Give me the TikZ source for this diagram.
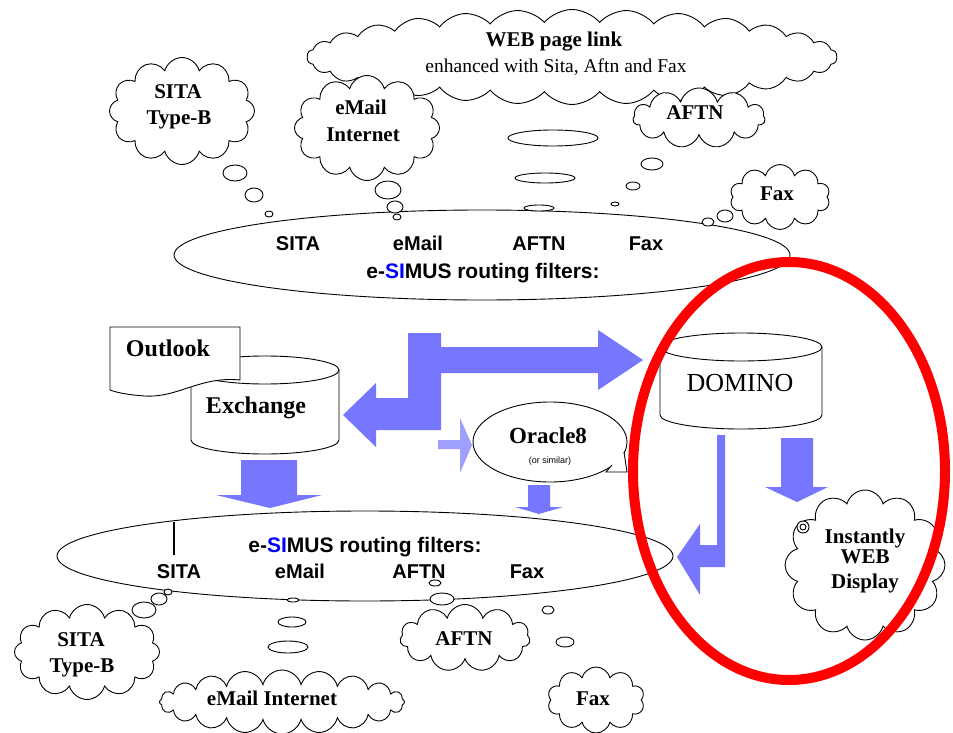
\documentclass[tikz,border=0pt]{standalone}
\usepackage{fontspec}
\setmainfont{Liberation Serif}
\newfontfamily\labfont{Liberation Sans}
\usetikzlibrary{shapes.symbols,shapes.geometric}
\definecolor{arrowblue}{RGB}{118,118,255}
\definecolor{simusblue}{RGB}{0,0,255}
\definecolor{ringred}{RGB}{255,0,0}
\begin{document}
\begin{tikzpicture}[x=1pt,y=1pt,
  thought/.style={cloud, draw, fill=white, cloud puffs=#1, cloud ignores aspect, line width=0.9pt, inner sep=0pt},
  bub/.style={draw, fill=white, line width=0.9pt},
  ser/.style={font=\fontsize{21}{23}\selectfont\bfseries, anchor=base, inner sep=0pt},
  serreg/.style={font=\fontsize{19.5}{21}\selectfont, anchor=base, inner sep=0pt},
  sans/.style={font=\labfont\fontsize{20}{22}\selectfont\bfseries, anchor=base, inner sep=0pt},
  sansbig/.style={font=\labfont\fontsize{21}{23}\selectfont\bfseries, anchor=base, inner sep=0pt},
  big/.style={font=\fontsize{24}{26}\selectfont\bfseries, anchor=base, inner sep=0pt},
  flow/.style={fill=arrowblue},
  outl/.style={draw, fill=white, line width=0.9pt}
]
\useasboundingbox (0,0) rectangle (953,-733);
\fill[white] (0,0) rectangle (953,-733);

% ---- top clouds
\node[thought=30, cloud puff arc=100, minimum width=530, minimum height=95] (webc) at (572,-57) {};
\node[thought=12, minimum width=145, minimum height=107] (sitac) at (182,-111) {};
\node[thought=12, minimum width=145, minimum height=105] (mailc) at (367,-128) {};
\node[thought=11, minimum width=132, minimum height=60] (aftnc) at (699,-118) {};
\node[thought=10, minimum width=100, minimum height=65] (faxc) at (780,-197) {};

\node[ser] (webt1) at (554,-47) {WEB page link};
\node[serreg] (webt2) at (556,-73) {enhanced with Sita, Aftn and Fax};
\node[ser] (sitat1) at (178,-99) {SITA};
\node[ser] (sitat2) at (179,-125) {Type-B};
\node[ser] (mailt1) at (361,-115) {eMail};
\node[ser] (mailt2) at (363,-142) {Internet};
\node[ser] (aftnt) at (695,-120) {AFTN};
\node[ser] (faxt) at (777,-200) {Fax};

% ---- top routing ellipse
\draw[line width=0.9pt] (482,-255) ellipse [x radius=308, y radius=45];
\node[sans] (tsita) at (298,-250) {SITA};
\node[sans] (tmail) at (418,-250) {eMail};
\node[sans] (taftn) at (539,-250) {AFTN};
\node[sans] (tfax) at (646,-250) {Fax};
\node[sansbig] (tsimus) at (483,-278) {e-\textcolor{simusblue}{SI}MUS routing filters:};

% bubbles top
\draw[bub] (235,-173) ellipse [x radius=12, y radius=8];
\draw[bub] (254,-195) ellipse [x radius=9, y radius=7];
\draw[bub] (269,-214) ellipse [x radius=4, y radius=3];
\draw[bub] (388,-190) ellipse [x radius=13, y radius=9];
\draw[bub] (395,-207) ellipse [x radius=8, y radius=6];
\draw[bub] (397,-217) ellipse [x radius=4, y radius=3];
\draw[bub] (553,-138) ellipse [x radius=45, y radius=8];
\draw[bub] (545,-178) ellipse [x radius=30, y radius=5];
\draw[bub] (539,-208) ellipse [x radius=15, y radius=3];
\draw[bub] (652,-164) ellipse [x radius=11, y radius=6];
\draw[bub] (633,-186) ellipse [x radius=7, y radius=4];
\draw[bub] (615,-204) ellipse [x radius=4, y radius=2];
\draw[bub] (725,-216) ellipse [x radius=8, y radius=6];
\draw[bub] (708,-222) ellipse [x radius=6, y radius=4];

% ---- Exchange cylinder and Outlook
\draw[outl] (191,-370) -- (191,-440) arc[start angle=180, end angle=360, x radius=74, y radius=14]
  -- (339,-370) arc[start angle=0, end angle=180, x radius=74, y radius=14] -- cycle;
\draw[line width=0.9pt] (191,-370) arc[start angle=180, end angle=360, x radius=74, y radius=14];
\draw[outl] (110,-327) -- (240,-327) -- (240,-380)
  .. controls (200,-376) and (178,-398) .. (145,-396)
  .. controls (130,-395) and (118,-393) .. (110,-390) -- cycle;
\node[big] (outlook) at (168,-356) {Outlook};
\node[big] (exch) at (256,-413) {Exchange};

% ---- DOMINO cylinder
\draw[outl] (660,-347) -- (660,-415) arc[start angle=180, end angle=360, x radius=81, y radius=14]
  -- (822,-347) arc[start angle=0, end angle=180, x radius=81, y radius=14] -- cycle;
\draw[line width=0.9pt] (660,-347) arc[start angle=180, end angle=360, x radius=81, y radius=14];
\node[font=\fontsize{26}{28}\selectfont, anchor=base, inner sep=0pt] (domino) at (740,-391) {DOMINO};

% ---- Oracle8 speech bubble
\draw[outl] (550,-442) ellipse [x radius=77, y radius=40];
\fill[white] (612,-465) -- (606,-472) -- (627,-472) -- (624,-452) -- cycle;
\draw[line width=0.9pt] (612,-465) -- (606,-472) -- (627,-472) -- (624,-452);
\node[font=\fontsize{23}{25}\selectfont\bfseries, anchor=base, inner sep=0pt] (oracle) at (548,-443) {Oracle8};
\node[font=\labfont\fontsize{9}{10}\selectfont, anchor=base, inner sep=0pt] (simil) at (550,-463) {(or similar)};

% ---- blue arrows
\fill[flow] (343,-415) -- (376,-383) -- (376,-398) -- (408,-398) -- (408,-333) -- (441,-333)
  -- (441,-347) -- (598,-347) -- (598,-330) -- (643,-360) -- (598,-390) -- (598,-373)
  -- (441,-373) -- (441,-430) -- (376,-430) -- (376,-447) -- cycle;
\fill[arrowblue!70] (438,-440) -- (460,-440) -- (460,-418) -- (472,-445) -- (460,-473) -- (460,-449) -- (438,-449) -- cycle;
\fill[flow] (241,-460) -- (297,-460) -- (297,-495) -- (322,-495) -- (270,-508) -- (216,-495) -- (241,-495) -- cycle;
\fill[flow] (528,-485) -- (550,-485) -- (550,-507) -- (563,-507) -- (539,-514) -- (515,-507) -- (528,-507) -- cycle;
\fill[flow] (781,-438) -- (813,-438) -- (813,-487) -- (828,-487) -- (797,-502) -- (765,-487) -- (781,-487) -- cycle;
\fill[flow] (717,-435) -- (725,-435) -- (725,-567) -- (700,-567) -- (700,-595) -- (677,-557)
  -- (700,-524) -- (700,-545) -- (717,-545) -- cycle;

% ---- Instantly WEB Display
\node[thought=12, minimum width=160, minimum height=150] (instc) at (865,-565) {};
\node[ser] (inst1) at (865,-543) {Instantly};
\node[ser] (inst2) at (865,-563) {WEB};
\node[ser] (inst3) at (865,-588) {Display};
\draw[line width=0.9pt, fill=white] (803,-527) circle [radius=6];
\draw[line width=0.9pt] (803,-527) circle [radius=3];

% ---- bottom routing ellipse
\draw[line width=0.9pt] (365,-556) ellipse [x radius=308, y radius=45];
\draw[line width=1.4pt] (174,-522) -- (174,-555);
\node[sansbig] (bsimus) at (365,-552) {e-\textcolor{simusblue}{SI}MUS routing filters:};
\node[sans] (bsita) at (179,-578) {SITA};
\node[sans] (bmail) at (300,-578) {eMail};
\node[sans] (baftn) at (419,-578) {AFTN};
\node[sans] (bfax) at (527,-578) {Fax};

% ---- bottom clouds
\node[thought=12, minimum width=145, minimum height=95] (sitab) at (87,-652) {};
\node[thought=20, minimum width=245, minimum height=64] (mailb) at (282,-702) {};
\node[thought=11, minimum width=130, minimum height=67] (aftnb) at (465,-638) {};
\node[thought=10, minimum width=97, minimum height=66] (faxb) at (596,-700) {};
\node[ser] (sitab1) at (81,-646) {SITA};
\node[ser] (sitab2) at (82,-672) {Type-B};
\node[ser] (mailbt) at (272,-705) {eMail Internet};
\node[ser] (aftnbt) at (464,-645) {AFTN};
\node[ser] (faxbt) at (593,-705) {Fax};

% bubbles bottom
\draw[bub] (144,-610) ellipse [x radius=12, y radius=8];
\draw[bub] (159,-599) ellipse [x radius=8, y radius=6];
\draw[bub] (168,-592) ellipse [x radius=4, y radius=3];
\draw[bub] (293,-600) ellipse [x radius=6, y radius=2];
\draw[bub] (292,-622) ellipse [x radius=14, y radius=5];
\draw[bub] (288,-647) ellipse [x radius=20, y radius=6];
\draw[bub] (435,-583) ellipse [x radius=6, y radius=3];
\draw[bub] (442,-599) ellipse [x radius=12, y radius=6];
\draw[bub] (548,-610) ellipse [x radius=6, y radius=4];
\draw[bub] (565,-642) ellipse [x radius=9, y radius=5];

% ---- red highlight ring
\draw[ringred, line width=10pt] (789,-471) ellipse [x radius=156, y radius=209];
\end{tikzpicture}
\end{document}
